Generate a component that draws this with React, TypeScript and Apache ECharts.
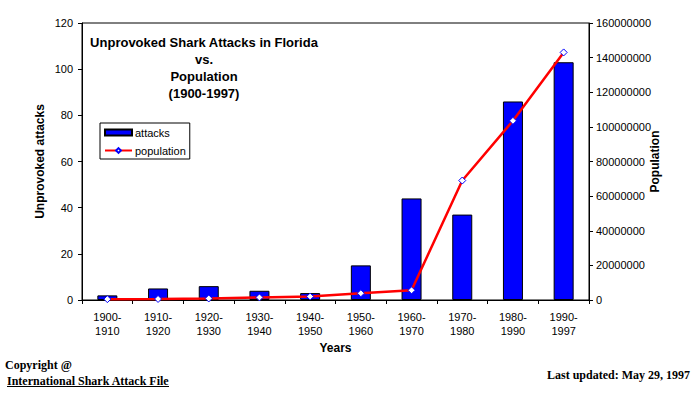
import React, { useEffect, useRef } from "react";
import * as echarts from "echarts";

const categories = [
  "1900-\n1910",
  "1910-\n1920",
  "1920-\n1930",
  "1930-\n1940",
  "1940-\n1950",
  "1950-\n1960",
  "1960-\n1970",
  "1970-\n1980",
  "1980-\n1990",
  "1990-\n1997",
];
const attacks = [2, 5, 6, 4, 3, 15, 44, 37, 86, 103];
const population = [
  500000, 600000, 900000, 1500000, 2000000, 3900000, 5600000, 69000000, 103500000, 143000000,
];
const titleLines = ["Unprovoked Shark Attacks in Florida", "vs.", "Population", "(1900-1997)"];

const SANS = "'Liberation Sans', Arial, sans-serif";
const SERIF = "'Liberation Serif', 'Times New Roman', serif";

export default function App() {
  const ref = useRef<HTMLDivElement>(null);
  useEffect(() => {
    if (!ref.current) return;
    const chart = echarts.init(ref.current, undefined, { renderer: "svg" });
    const axisText = { color: "#000", fontFamily: SANS, fontSize: 11 };
    const nameText = { color: "#000", fontFamily: SANS, fontSize: 12, fontWeight: "bold" as const };
    chart.setOption({
      animation: false,
      backgroundColor: "#fff",
      grid: {
        left: 82,
        right: 111,
        top: 23,
        bottom: 100,
        show: true,
        borderColor: "#000",
        borderWidth: 1,
        backgroundColor: "transparent",
      },
      legend: {
        orient: "vertical",
        left: 100,
        top: 123,
        padding: [4, 4, 3, 4],
        itemGap: 7,
        itemWidth: 27,
        itemHeight: 6,
        borderColor: "#000",
        borderWidth: 1,
        textStyle: { ...axisText, padding: [0, 0, 0, -2] },
        data: [
          { name: "attacks", icon: "rect" },
          { name: "population" },
        ],
      },
      xAxis: {
        type: "category",
        data: categories,
        name: "Years",
        nameLocation: "middle",
        nameGap: 42,
        nameMoveOverlap: false,
        nameTextStyle: nameText,
        axisLine: { lineStyle: { color: "#000", width: 1 } },
        axisTick: { show: true, length: 4, lineStyle: { color: "#000" } },
        axisLabel: { ...axisText, margin: 10, lineHeight: 14, interval: 0 },
        splitLine: { show: false },
      },
      yAxis: [
        {
          type: "value",
          min: 0,
          max: 120,
          interval: 20,
          name: "Unprovoked attacks",
          nameLocation: "middle",
          nameGap: 36,
          nameRotate: 90,
          nameMoveOverlap: false,
          nameTextStyle: nameText,
          axisLine: { show: true, lineStyle: { color: "#000" } },
          axisTick: { show: true, length: 4, lineStyle: { color: "#000" } },
          axisLabel: { ...axisText, margin: 9 },
          splitLine: { show: false },
        },
        {
          type: "value",
          min: 0,
          max: 160000000,
          interval: 20000000,
          position: "right",
          name: "Population",
          nameLocation: "middle",
          nameGap: 60,
          nameRotate: 90,
          nameMoveOverlap: false,
          nameTextStyle: nameText,
          axisLine: { show: true, lineStyle: { color: "#000" } },
          axisTick: { show: true, length: 4, lineStyle: { color: "#000" } },
          axisLabel: { ...axisText, margin: 7, formatter: (v: number) => String(v) },
          splitLine: { show: false },
        },
      ],
      series: [
        {
          name: "attacks",
          type: "bar",
          yAxisIndex: 0,
          data: attacks,
          barWidth: 20,
          itemStyle: { color: "#0000FF", borderColor: "#000", borderWidth: 1 },
        },
        {
          name: "population",
          type: "line",
          yAxisIndex: 1,
          data: population,
          symbol: "diamond",
          symbolSize: 7,
          lineStyle: { color: "#FF0000", width: 2.5 },
          itemStyle: { color: "#fff", borderColor: "#0000FF", borderWidth: 1 },
          z: 3,
        },
      ],
      graphic: [
        {
          type: "text",
          x: 204,
          y: 34,
          z: 10,
          style: {
            text: titleLines.join("\n"),
            textAlign: "center",
            textVerticalAlign: "top",
            lineHeight: 17,
            fill: "#000",
            font: `bold 13px ${SANS}`,
          },
        },
        {
          type: "text",
          x: 5,
          y: 359,
          style: { text: "Copyright @", fill: "#000", font: `bold 12px ${SERIF}` },
        },
        {
          type: "text",
          x: 7,
          y: 375,
          style: { text: "International Shark Attack File", fill: "#000", font: `bold 12px ${SERIF}` },
        },
        {
          type: "rect",
          shape: { x: 7, y: 386, width: 162, height: 1 },
          style: { fill: "#000" },
        },
        {
          type: "text",
          x: 690,
          y: 369,
          style: {
            text: "Last updated: May 29, 1997",
            textAlign: "right",
            fill: "#000",
            font: `bold 12px ${SERIF}`,
          },
        },
      ],
    });
    return () => chart.dispose();
  }, []);
  return (
    <div
      ref={ref}
      style={{ position: "fixed", left: 0, top: 0, width: 700, height: 400, background: "#fff" }}
    />
  );
}
